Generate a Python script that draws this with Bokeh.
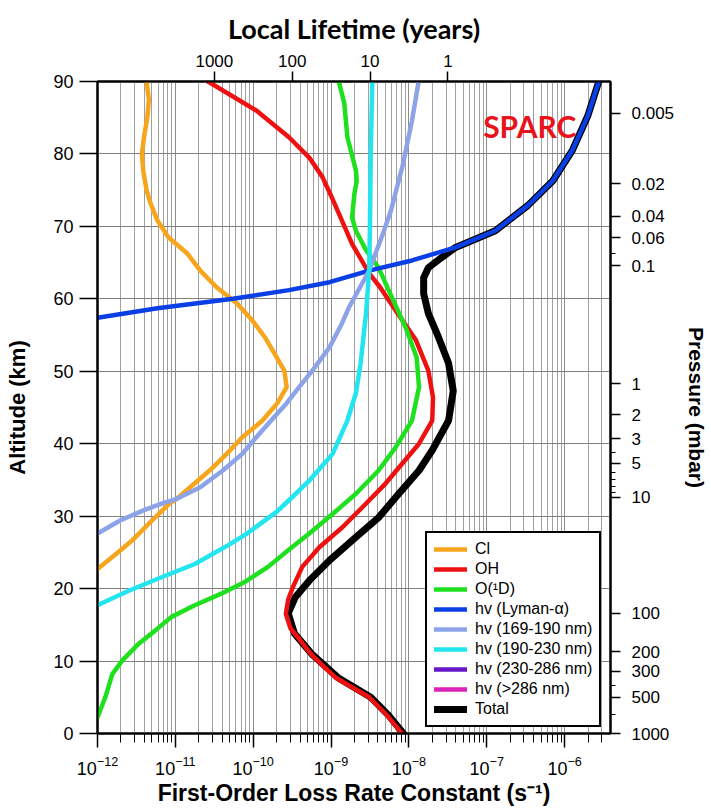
import numpy as np
from bokeh.plotting import figure
from bokeh.models import (LogAxis, LinearAxis, Range1d, FixedTicker, CustomJSTickFormatter,
                          SingleIntervalTicker, Legend, LegendItem, Label)
from bokeh.embed import file_html
from bokeh.resources import INLINE

# ---------------- data: altitude (km) vs log10 first-order loss rate constant (s^-1)
cl_alt = [22.7, 24.7, 26.6, 29.4, 31.8, 32.4, 34.0, 36.3, 38.6, 40.9, 43.2, 45.6, 47.8, 50.1, 52.5,
          54.7, 57.0, 59.4, 61.6, 63.9, 66.3, 68.5, 70.8, 73.2, 75.0, 77.5, 80.0, 82.5, 85.0, 87.5, 90.0]
cl_logk = [-12.0, -11.77, -11.56, -11.30, -11.07, -10.98, -10.81, -10.56, -10.34, -10.14, -9.88, -9.69,
           -9.57, -9.60, -9.73, -9.85, -10.01, -10.21, -10.47, -10.68, -10.85, -11.09, -11.23, -11.32,
           -11.37, -11.41, -11.43, -11.40, -11.36, -11.34, -11.37]

oh_alt = [0.0, 2.5, 5.0, 7.7, 9.2, 11.0, 12.8, 14.5, 16.5, 18.5, 20.2, 23.0, 25.7, 28.5, 31.2, 34.5,
          37.2, 40.0, 43.2, 46.4, 50.1, 54.3, 58.4, 61.6, 63.5, 67.6, 70.8, 74.0, 76.8, 79.5, 82.3,
          86.0, 90.0]
oh_logk = [-8.09, -8.28, -8.51, -8.94, -9.09, -9.26, -9.39, -9.52, -9.58, -9.55, -9.49, -9.37, -9.15,
           -8.85, -8.60, -8.30, -8.09, -7.87, -7.70, -7.69, -7.75, -7.91, -8.17, -8.37, -8.51, -8.73,
           -8.86, -8.99, -9.11, -9.28, -9.54, -9.96, -10.58]

o1d_alt = [2.2, 5.0, 8.2, 10.1, 12.4, 14.2, 16.1, 17.7, 19.3, 20.9, 23.0, 25.3, 27.6, 30.3, 33.1, 36.3,
           39.5, 43.2, 47.8, 51.9, 56.0, 61.2, 64.3, 66.7, 69.4, 71.2, 74.5, 76.3, 77.7, 82.3, 87.0, 90.0]
o1d_logk = [-12.0, -11.90, -11.81, -11.68, -11.47, -11.26, -11.05, -10.75, -10.41, -10.11, -9.81, -9.55,
            -9.28, -8.98, -8.68, -8.39, -8.17, -7.96, -7.87, -7.90, -8.04, -8.26, -8.39, -8.55, -8.68,
            -8.73, -8.70, -8.67, -8.68, -8.79, -8.83, -8.90]

lya_alt = [57.4, 58.7, 60.0, 61.2, 62.3, 63.9, 65.3, 67.1, 69.4, 72.9, 76.3, 80.5, 85.3, 90.0]
lya_logk = [-12.0, -11.23, -10.26, -9.54, -9.02, -8.51, -7.96, -7.40, -6.89, -6.47, -6.15, -5.90,
            -5.70, -5.56]

hv169_alt = [27.6, 29.4, 30.8, 31.8, 32.4, 34.0, 36.3, 38.6, 40.9, 43.2, 45.6, 47.8, 50.1, 53.3, 56.6,
             58.8, 63.9, 69.4, 72.2, 78.4, 84.6, 90.0]
hv169_logk = [-12.0, -11.71, -11.41, -11.16, -10.98, -10.68, -10.39, -10.14, -9.96, -9.77, -9.57, -9.41,
              -9.24, -9.02, -8.86, -8.77, -8.51, -8.32, -8.23, -8.08, -7.96, -7.875]

hv190_alt = [17.7, 19.7, 21.6, 23.4, 26.0, 27.6, 30.6, 32.2, 34.9, 38.6, 43.2, 47.0, 51.1, 58.0, 63.9,
             70.0, 80.0, 90.0]
hv190_logk = [-12.0, -11.60, -11.17, -10.75, -10.32, -10.08, -9.70, -9.54, -9.28, -8.98, -8.79, -8.68,
              -8.62, -8.55, -8.51, -8.50, -8.49, -8.47]

# these two bands stay below 1e-12 s^-1 (left of the panel) at every altitude
hv230_alt = [0.0, 90.0]
hv230_logk = [-14.0, -14.0]
hv286_alt = [0.0, 90.0]
hv286_logk = [-14.0, -14.0]

total_alt = [0.0, 2.5, 5.0, 7.7, 11.0, 13.8, 16.6, 18.8, 21.1, 23.9, 27.1, 29.8, 33.1, 36.3, 39.1, 43.2,
             47.3, 51.1, 54.7, 58.0, 60.7, 62.9, 64.3, 65.7, 67.1, 69.4, 72.9, 76.3, 80.5, 85.3, 90.0]
total_logk = [-8.07, -8.26, -8.49, -8.91, -9.25, -9.47, -9.55, -9.46, -9.28, -9.02, -8.68, -8.39, -8.13,
              -7.87, -7.70, -7.49, -7.43, -7.49, -7.62, -7.75, -7.81, -7.81, -7.75, -7.58, -7.40, -6.89,
              -6.47, -6.15, -5.90, -5.70, -5.56]

lifetime_years = [1000, 100, 10, 1]
pressure_labels = ["0.005", "0.02", "0.04", "0.06", "0.1", "1", "2", "3", "5", "10",
                   "100", "200", "300", "500", "1000"]
pressure_alt = [85.6, 75.9, 71.4, 68.4, 64.6, 48.3, 44.0, 40.7, 37.3, 32.6, 16.6, 11.3, 8.6, 5.0, 0.0]
pressure_minor = [0.08, 4, 6, 7, 8, 9, 400, 700]

SEC_PER_YEAR = 365.25 * 86400.0
TICK_FONT = "Liberation Sans"

p = figure(width=711, height=810, x_axis_type="log",
           x_range=Range1d(1e-12, 10 ** -5.41), y_range=Range1d(0, 90),
           output_backend="svg", toolbar_location=None,
           min_border_left=97, min_border_right=98, min_border_top=81, min_border_bottom=77)
p.outline_line_color = "black"
p.outline_line_width = 2
p.background_fill_color = "white"

# bottom axis
decades = [10.0 ** e for e in range(-12, -5)]
minors = [m * 10.0 ** e for e in range(-12, -5) for m in range(2, 10)]
xt = FixedTicker(ticks=decades, minor_ticks=minors)
bax = p.below[0]
bax.ticker = xt
bax.axis_label = "First-Order Loss Rate Constant (s⁻¹)"
p.xgrid[0].ticker = xt
p.xgrid.grid_line_color = "#8c8c8c"
p.xgrid.minor_grid_line_color = "#a0a0a0"

# left axis
yt = SingleIntervalTicker(interval=10, num_minor_ticks=0)
lax = p.left[0]
lax.ticker = yt
lax.axis_label = "Altitude (km)"
p.ygrid[0].ticker = yt
p.ygrid.grid_line_color = "#808080"

# top axis: local lifetime
tax = LogAxis(ticker=FixedTicker(ticks=[1.0 / (t * SEC_PER_YEAR) for t in lifetime_years]),
              formatter=CustomJSTickFormatter(code="return String(Math.round(1/(tick*31557600)))"),
              axis_label="Local Lifetime (years)")
p.add_layout(tax, "above")

# right axis: pressure
lp = np.log10([float(s) for s in pressure_labels])
order = np.argsort(lp)
minor_alt = list(np.interp(np.log10(pressure_minor), lp[order], np.array(pressure_alt)[order]))
rax = LinearAxis(ticker=FixedTicker(ticks=pressure_alt, minor_ticks=minor_alt),
                 formatter=CustomJSTickFormatter(args=dict(alts=pressure_alt, labs=pressure_labels), code="""
                     let best = 0, d = 1e9;
                     for (let i = 0; i < alts.length; i++) {
                         const dd = Math.abs(alts[i] - tick);
                         if (dd < d) { d = dd; best = i; }
                     }
                     return labs[best];"""),
                 axis_label="Pressure (mbar)")
p.add_layout(rax, "right")

for ax in [bax, lax, tax, rax]:
    ax.axis_line_width = 2
    ax.axis_line_color = "black"
    ax.major_tick_line_color = "black"
    ax.minor_tick_line_color = "black"
    ax.major_tick_line_width = 1.5
    ax.major_tick_in = 0
    ax.minor_tick_in = 0
    ax.major_label_text_font = TICK_FONT
    ax.major_label_text_font_size = "17px"
    ax.major_label_text_color = "black"
    ax.axis_label_text_font = TICK_FONT
    ax.axis_label_text_font_style = "bold"
    ax.axis_label_text_color = "black"
    ax.axis_label_text_font_size = "22px"

bax.major_tick_out = 14
bax.minor_tick_out = 9
bax.major_label_standoff = 8
bax.major_label_text_font_size = "18px"
bax.axis_label_standoff = 2
bax.axis_label_text_font_size = "23px"

lax.major_tick_out = 18
lax.minor_tick_out = 0
lax.major_label_standoff = 6
lax.axis_label_standoff = 20
lax.major_label_text_font_size = "18px"

tax.major_tick_out = 10
tax.minor_tick_out = 0
tax.major_label_standoff = 5
tax.axis_label_standoff = 7
tax.axis_label_text_font = "Lato"
tax.axis_label_text_font_size = "27px"

rax.major_tick_out = 10
rax.minor_tick_out = 5
rax.major_label_standoff = 11
rax.axis_label_standoff = 8
rax.axis_label_text_font_size = "21px"

series = [
    ("Cl", cl_alt, cl_logk, "#F7A51C", 4.5),
    ("OH", oh_alt, oh_logk, "#EE1111", 4.5),
    ("O(¹D)", o1d_alt, o1d_logk, "#1EE01E", 4.5),
    ("hv (Lyman-α)", lya_alt, lya_logk, "#0B3FE6", 4.5),
    ("hv (169-190 nm)", hv169_alt, hv169_logk, "#8CA3E8", 4.5),
    ("hv (190-230 nm)", hv190_alt, hv190_logk, "#22E5F0", 4.5),
    ("hv (230-286 nm)", hv230_alt, hv230_logk, "#6419C8", 4.5),
    ("hv (>286 nm)", hv286_alt, hv286_logk, "#DD22BB", 4.5),
]

r_total = p.line(x=list(10.0 ** np.array(total_logk)), y=total_alt, line_color="black",
                 line_width=7, line_join="round", line_cap="round")
items = []
for name, alt, logk, col, lw in series:
    r = p.line(x=list(10.0 ** np.array(logk, dtype=float)), y=alt, line_color=col,
               line_width=lw, line_join="round", line_cap="round")
    items.append(LegendItem(label=name, renderers=[r]))
items.append(LegendItem(label="Total", renderers=[r_total]))

legend = Legend(items=items, location=(328, 6), border_line_color="black", border_line_width=2,
                border_line_alpha=1.0, background_fill_color="white", background_fill_alpha=1.0,
                label_text_font=TICK_FONT, label_text_font_size="16px", label_text_color="black",
                glyph_width=33, glyph_height=16, label_height=15, spacing=2, padding=7,
                label_standoff=8, margin=0)
p.add_layout(legend)

p.add_layout(Label(x=9.0e-8, y=83.9, text="SPARC", text_font="Lato", text_font_style="bold",
                   text_font_size="30px", text_color="#E8131B", text_baseline="middle"))

open("out.html", "w").write(file_html(p, INLINE))
